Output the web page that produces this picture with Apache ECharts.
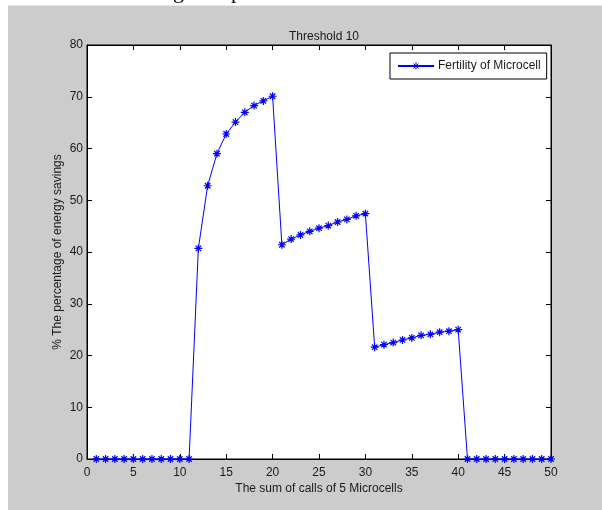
<!DOCTYPE html>
<html>
<head>
<meta charset="utf-8">
<script src="https://cdn.jsdelivr.net/npm/echarts@6/dist/echarts.min.js"></script>
<style>
html,body{margin:0;padding:0;background:#ffffff;}
#bg{position:absolute;left:8px;top:5px;width:594px;height:505px;background:#cccccc;border-top:1px solid #e8e8e8;}
#chart{position:absolute;left:0;top:0;width:602px;height:510px;}
</style>
</head>
<body>
<div id="bg"></div>
<div id="chart"></div>
<script>
const xValues = [1,2,3,4,5,6,7,8,9,10,11,12,13,14,15,16,17,18,19,20,21,22,23,24,25,26,27,28,29,30,31,32,33,34,35,36,37,38,39,40,41,42,43,44,45,46,47,48,49,50];
const savings = [0,0,0,0,0,0,0,0,0,0,0,
  40.7,52.8,59.0,62.8,65.1,67.0,68.3,69.2,70.1,
  41.4,42.5,43.3,44.0,44.6,45.1,45.8,46.3,47.0,47.4,
  21.6,22.1,22.5,23.0,23.4,23.9,24.1,24.5,24.7,25.0,
  0,0,0,0,0,0,0,0,0,0];
const seriesName = 'Fertility of Microcell';
const titleText = 'Threshold 10';
const xName = 'The sum of calls of 5 Microcells';
const yName = '% The percentage of energy savings';

const FONT = '"Liberation Sans", Arial, sans-serif';
const TXT = '#1a1a1a';
const star = 'path://M5 0 L5 10 M0 5 L10 5 M1.6 1.6 L8.4 8.4 M1.6 8.4 L8.4 1.6';

const chart = echarts.init(document.getElementById('chart'), null, {renderer:'canvas'});
function axisCommon() {
  return {
    axisLine:{show:true, onZero:false, lineStyle:{color:'#000', width:1}},
    axisTick:{show:true, inside:true, length:5, lineStyle:{color:'#000', width:1}},
    splitLine:{show:false}
  };
}
chart.setOption({
  backgroundColor:'transparent',
  animation:false,
  textStyle:{fontFamily:FONT},
  title:{text:titleText, left:319, top:26, textAlign:'center',
    textStyle:{fontSize:12, fontWeight:'normal', color:TXT, fontFamily:FONT}},
  graphic:[
    {type:'text', left:173, top:-19, style:{text:'g', font:'22px "Liberation Serif", serif', fill:'#000'}},
    {type:'text', left:231, top:-19, style:{text:'p', font:'22px "Liberation Serif", serif', fill:'#000'}}
  ],
  legend:{
    show:true, left:390, top:53, orient:'horizontal',
    backgroundColor:'#ffffff', borderColor:'#000', borderWidth:1,
    padding:[7,6,7,7], itemWidth:36, itemHeight:9, itemGap:4,
    itemStyle:{color:'#0000ff', borderColor:'#0000ff', borderWidth:1},
    textStyle:{fontSize:12, color:TXT, fontFamily:FONT, padding:[0,0,0,-1]},
    data:[{name:seriesName}]
  },
  grid:{left:87, right:51, top:45, bottom:51, show:true, backgroundColor:'#ffffff', borderColor:'#000', borderWidth:1, containLabel:false},
  xAxis:[
    Object.assign({type:'value', min:0, max:50, interval:5, position:'bottom',
      name:xName, nameLocation:'middle', nameGap:24, nameMoveOverlap:false,
      nameTextStyle:{fontSize:12, color:TXT, fontFamily:FONT},
      axisLabel:{fontSize:12, color:TXT, margin:8, fontFamily:FONT}}, axisCommon()),
    Object.assign({type:'value', min:0, max:50, interval:5, position:'top',
      axisLabel:{show:false}}, axisCommon())
  ],
  yAxis:[
    Object.assign({type:'value', min:0, max:80, interval:10, position:'left',
      name:yName, nameLocation:'middle', nameGap:23, nameMoveOverlap:false,
      nameTextStyle:{fontSize:12, color:TXT, fontFamily:FONT},
      axisLabel:{fontSize:12, color:TXT, margin:4, fontFamily:FONT}}, axisCommon()),
    Object.assign({type:'value', min:0, max:80, interval:10, position:'right',
      axisLabel:{show:false}}, axisCommon())
  ],
  series:[{
    name:seriesName, type:'line', xAxisIndex:0, yAxisIndex:0,
    data:xValues.map((x,i)=>[x, savings[i]]),
    symbol:star, symbolSize:8, showSymbol:true, clip:false,
    lineStyle:{color:'#0000ff', width:1},
    itemStyle:{color:'#0000ff', borderColor:'#0000ff', borderWidth:1.2},
    z:5
  }]
});
</script>
</body>
</html>
